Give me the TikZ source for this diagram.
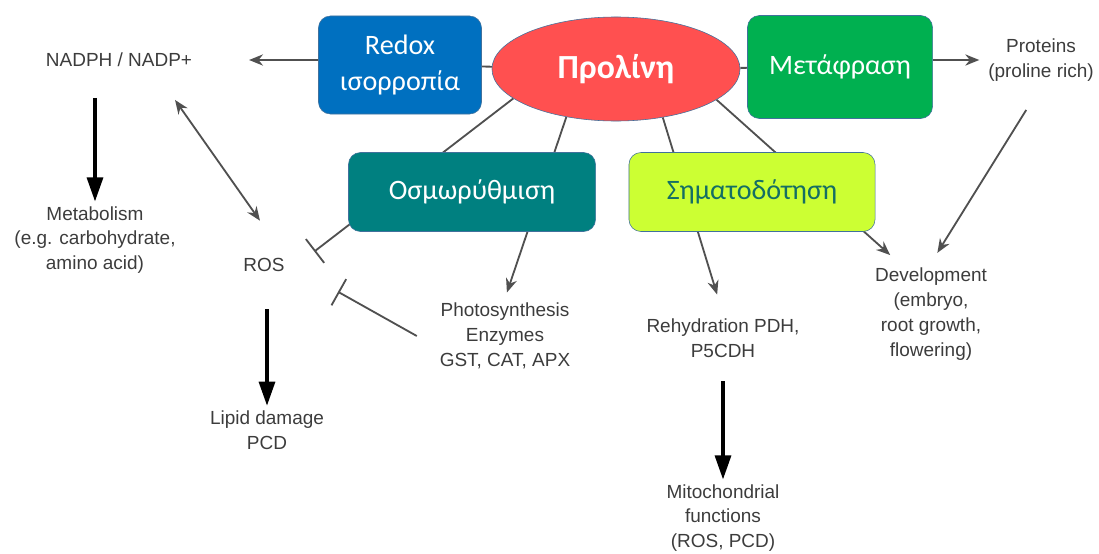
\documentclass[tikz,border=0pt]{standalone}
\usepackage{fontspec}
\setmainfont{Liberation Sans}
\newfontfamily\boxfont{Carlito}
\usepackage{tikz}
\usetikzlibrary{shapes.geometric, arrows.meta, backgrounds}
\definecolor{redoxblue}{RGB}{0, 112, 192}
\definecolor{prolinered}{RGB}{255, 80, 80}
\definecolor{transgreen}{RGB}{0, 176, 80}
\definecolor{osmoteal}{RGB}{0, 128, 128}
\definecolor{signallime}{RGB}{204, 255, 51}
\definecolor{signaltext}{RGB}{20, 110, 100}
\definecolor{edgeblue}{RGB}{65, 113, 156}
\definecolor{labelgray}{RGB}{60, 60, 60}
\definecolor{linegray}{RGB}{80, 80, 80}

\begin{document}
\begin{tikzpicture}[
    x=0.025cm, y=-0.025cm,
    box/.style={rectangle, draw=edgeblue, rounded corners=0.3cm, align=center, text=white, font=\boxfont\fontsize{20}{26}\selectfont},
    lbl/.style={align=center, text=labelgray, font=\fontsize{13.5}{17.6}\selectfont},
    arrow/.style={-{Stealth[length=3.5mm, width=2.8mm]}, line width=1.3pt, draw=linegray},
    dblarrow/.style={{Stealth[length=3.5mm, width=2.8mm]}-{Stealth[length=3.5mm, width=2.8mm]}, line width=1.3pt, draw=linegray},
    bigarrow/.style={-{Triangle[length=6mm, width=4mm]}, line width=2.2pt},
    inhibit/.style={-{Bar[width=7.5mm]}, line width=1.3pt, draw=linegray},
    link/.style={line width=1.3pt, draw=linegray}
]
    \useasboundingbox (0,0) rectangle (1099,553);

    % Proline and its roles
    \node[ellipse, draw=edgeblue, fill=prolinered, minimum width=6.2cm, minimum height=2.6cm, inner sep=0pt, text=white, font=\boxfont\bfseries\fontsize{24}{28}\selectfont] (pro) at (616,69) {Προλίνη};
    \node[box, fill=redoxblue, minimum width=4.075cm, minimum height=2.45cm] (redox) at (400,65) {Redox\\ισορροπία};
    \node[box, fill=transgreen, minimum width=4.625cm, minimum height=2.575cm] (trans) at (840,67) {Μετάφραση};
    \node[box, fill=osmoteal, minimum width=6.175cm, minimum height=1.975cm] (osmo) at (472,192) {Οσμωρύθμιση};
    \node[box, fill=signallime, text=signaltext, minimum width=6.15cm, minimum height=1.975cm] (signal) at (752,192) {Σηματοδότηση};

    % Outcomes
    \node[lbl] (nadph) at (119,60) {NADPH / NADP+};
    \node[lbl] (meta) at (95,240) {Metabolism\\(e.g. carbohydrate,\\amino acid)};
    \node[lbl, minimum width=2.5cm, minimum height=2.2cm] (ros) at (264,265) {ROS};
    \node[lbl] (lipid) at (267,430) {Lipid damage\\PCD};
    \node[lbl] (photo) at (505,336) {Photosynthesis\\Enzymes\\GST, CAT, APX};
    \node[lbl] (rehy) at (723,338) {Rehydration PDH,\\P5CDH};
    \node[lbl] (mito) at (723,518) {Mitochondrial\\functions\\(ROS, PCD)};
    \node[lbl] (prot) at (1041,60) {Proteins\\(proline rich)};
    \node[lbl] (dev) at (931,314) {Development\\(embryo,\\root growth,\\flowering)};

    % Lines from proline, behind the boxes
    \begin{scope}[on background layer]
        \draw[link] (pro) -- (redox);
        \draw[link] (pro) -- (trans);
        \draw[inhibit] (pro.196) -- (ros.15);
        \draw[arrow, shorten >=0.15cm] (pro.-136) -- (photo.north);
        \draw[arrow, shorten >=0.5cm] (pro.-46) -- (rehy.north);
        \draw[arrow, shorten >=0.3cm] (pro.-17) -- (dev.122);
    \end{scope}

    % Arrows
    \draw[arrow, shorten >=1.3cm] (redox.west |- nadph.east) -- (nadph.east);
    \draw[arrow, shorten >=0.1cm] (trans.east |- prot.west) -- (prot.west);
    \draw[bigarrow, shorten <=0.65cm] (nadph.south -| meta.north) -- (meta.north);
    \draw[bigarrow] (ros.south -| lipid.north) -- (lipid.north);
    \draw[bigarrow, shorten <=0.475cm] (rehy.south) -- (mito.north);
    \draw[dblarrow] ([xshift=1.4cm, yshift=-0.7cm]nadph.south) -- ([xshift=-0.1cm]ros.north);
    \draw[arrow, shorten <=0.7cm, shorten >=0.3cm] (prot.south) -- (dev.north);

    % Inhibition of ROS
    \draw[inhibit, shorten >=0.68cm] ([xshift=-0.45cm]photo.west) -- (ros.-15);
\end{tikzpicture}
\end{document}
